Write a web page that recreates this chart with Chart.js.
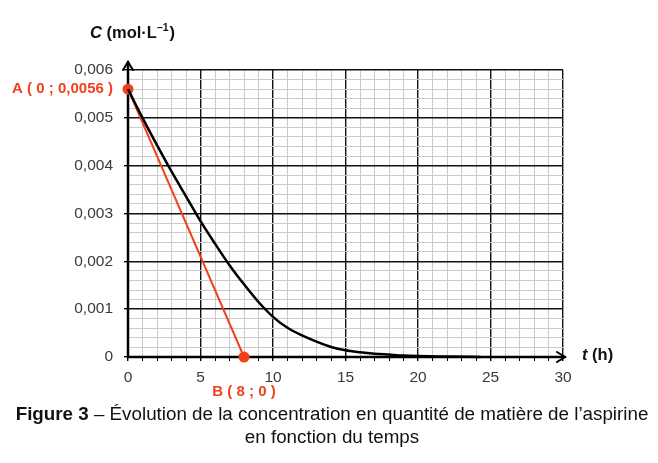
<!DOCTYPE html>
<html>
<head>
<meta charset="utf-8">
<script src="https://cdn.jsdelivr.net/npm/chart.js@4.4.0/dist/chart.umd.min.js"></script>
<style>
  body { margin: 0; background: #fff; }
  #wrap { width: 658px; height: 463px; position: relative; }
</style>
</head>
<body>
<div id="wrap"><canvas id="aspirineChart" width="658" height="463"></canvas></div>
<script>
// temps (h) et concentration (mol/L)
var timeHours = [0, 1, 2, 3, 4, 5, 6, 7, 8, 9, 10, 11, 12, 13, 14, 15, 16, 17, 18, 19, 20, 22, 24.3];
var concentration = [0.0056, 0.0050, 0.00443, 0.00388, 0.00336, 0.00284, 0.00237, 0.00192, 0.00152, 0.00115,
  0.00084, 0.00061, 0.00045, 0.00032, 0.00021, 0.00014, 0.0001, 0.00007, 0.00005, 0.00003, 0.00002, 0.00001, 0];

// tangente a l'origine : A(0 ; 0,0056) -> B(8 ; 0)
var tangentX = [0, 8];
var tangentY = [0.0056, 0];

var xTickLabels = ['0', '5', '10', '15', '20', '25', '30'];
var yTickLabels = ['0', '0,001', '0,002', '0,003', '0,004', '0,005', '0,006'];

var RED = '#f2401d';
var FONT = '"Liberation Sans", Arial, sans-serif';

var ctx = document.getElementById('aspirineChart').getContext('2d');

var curvePts = timeHours.map(function (t, i) { return { x: t, y: concentration[i] }; });
var tangentPts = tangentX.map(function (t, i) { return { x: t, y: tangentY[i] }; });

var isMajorY = function (v) {
  var k = v / 0.001;
  return Math.abs(k - Math.round(k)) < 1e-6;
};

var annotations = {
  id: 'annotations',
  beforeDatasetsDraw: function (chart) {
    var c = chart.ctx;
    var xs = chart.scales.x, ys = chart.scales.y;
    var x0 = xs.getPixelForValue(0), y0 = ys.getPixelForValue(0);
    var xEnd = xs.getPixelForValue(30) + 2, yTop = ys.getPixelForValue(0.006) - 8;
    c.save();
    // axes + fleches
    c.strokeStyle = '#000';
    c.lineWidth = 2.5;
    c.lineCap = 'round';
    c.beginPath();
    c.moveTo(x0, y0); c.lineTo(xEnd, y0);
    c.moveTo(x0, y0); c.lineTo(x0, yTop);
    c.stroke();
    c.lineWidth = 2;
    c.beginPath();
    c.moveTo(xEnd - 8, y0 - 5); c.lineTo(xEnd, y0); c.lineTo(xEnd - 8, y0 + 5);
    c.moveTo(x0 - 5, yTop + 8); c.lineTo(x0, yTop); c.lineTo(x0 + 5, yTop + 8);
    c.stroke();
    c.restore();
  },
  afterDraw: function (chart) {
    var c = chart.ctx;
    var xs = chart.scales.x, ys = chart.scales.y;
    c.save();
    // titres des axes
    c.fillStyle = '#111';
    c.textBaseline = 'alphabetic';
    c.textAlign = 'left';
    var px = 90, py = 38;
    c.font = 'italic bold 16.5px ' + FONT;
    c.fillText('C', px, py); px += c.measureText('C ').width;
    c.font = 'bold 16.5px ' + FONT;
    c.fillText('(mol·L', px, py); px += c.measureText('(mol·L').width;
    c.font = 'bold 10.5px ' + FONT;
    c.fillText('–1', px, py - 7); px += c.measureText('–1').width + 1;
    c.font = 'bold 16.5px ' + FONT;
    c.fillText(')', px, py);

    px = 582; py = 360;
    c.font = 'italic bold 16.5px ' + FONT;
    c.fillText('t', px, py); px += c.measureText('t ').width;
    c.font = 'bold 16.5px ' + FONT;
    c.fillText('(h)', px, py);

    // points A et B
    c.fillStyle = RED;
    c.font = 'bold 15px ' + FONT;
    c.textAlign = 'right';
    c.textBaseline = 'middle';
    c.fillText('A ( 0 ; 0,0056 )', 113, ys.getPixelForValue(0.0056));
    c.textAlign = 'center';
    c.fillText('B ( 8 ; 0 )', xs.getPixelForValue(8), 392);

    // legende de la figure
    c.fillStyle = '#111';
    c.textBaseline = 'middle';
    c.textAlign = 'left';
    var bold = 'Figure 3';
    var rest = ' – Évolution de la concentration en quantité de matière de l’aspirine';
    c.font = 'bold 18.8px ' + FONT;
    var wb = c.measureText(bold).width;
    c.font = '18.8px ' + FONT;
    var wr = c.measureText(rest).width;
    var sx = 332 - (wb + wr) / 2;
    c.font = 'bold 18.8px ' + FONT;
    c.fillText(bold, sx, 415);
    c.font = '18.8px ' + FONT;
    c.fillText(rest, sx + wb, 415);
    c.textAlign = 'center';
    c.fillText('en fonction du temps', 332, 438);
    c.restore();
  }
};

var myChart = new Chart(ctx, {
  type: 'scatter',
  data: {
    datasets: [{
      data: curvePts,
      showLine: true,
      borderColor: '#000',
      borderWidth: 2.5,
      pointRadius: 0,
      cubicInterpolationMode: 'monotone',
      clip: false
    }, {
      data: tangentPts,
      showLine: true,
      borderColor: RED,
      backgroundColor: RED,
      borderWidth: 2,
      pointRadius: 4.5,
      pointHoverRadius: 4.5,
      clip: false
    }]
  },
  options: {
    responsive: false,
    animation: false,
    layout: { padding: { left: 0, right: 95, top: 70, bottom: 76 } },
    plugins: { legend: { display: false }, tooltip: { enabled: false } },
    scales: {
      x: {
        type: 'linear',
        min: 0,
        max: 30,
        afterFit: function (scale) { scale.height = 30; },
        border: { display: false },
        grid: {
          color: function (c) { return c.tick.value % 5 === 0 ? '#111' : '#cbcbcb'; },
          lineWidth: function (c) { return c.tick.value % 5 === 0 ? 1.4 : 1; },
          tickColor: '#000',
          tickLength: 4,
          drawTicks: true
        },
        ticks: {
          stepSize: 1,
          autoSkip: false,
          maxRotation: 0,
          padding: 7,
          color: '#3a3a3a',
          font: { family: FONT, size: 15.5 },
          callback: function (v) { return v % 5 === 0 ? xTickLabels[v / 5] : ''; }
        }
      },
      y: {
        type: 'linear',
        min: 0,
        max: 0.006,
        afterFit: function (scale) { scale.width = 128; },
        afterBuildTicks: function (scale) {
          var t = [];
          for (var i = 0; i <= 30; i++) t.push({ value: i * 0.0002 });
          scale.ticks = t;
        },
        border: { display: false },
        grid: {
          color: function (c) { return isMajorY(c.tick.value) ? '#111' : '#cbcbcb'; },
          lineWidth: function (c) { return isMajorY(c.tick.value) ? 1.4 : 1; },
          tickColor: function (c) { return isMajorY(c.tick.value) ? '#000' : 'rgba(0,0,0,0)'; },
          tickLength: 4
        },
        ticks: {
          autoSkip: false,
          padding: 11,
          color: '#3a3a3a',
          font: { family: FONT, size: 15.5 },
          callback: function (v, i) { return i % 5 === 0 ? yTickLabels[i / 5] : ''; }
        }
      }
    }
  },
  plugins: [annotations]
});
</script>
</body>
</html>
